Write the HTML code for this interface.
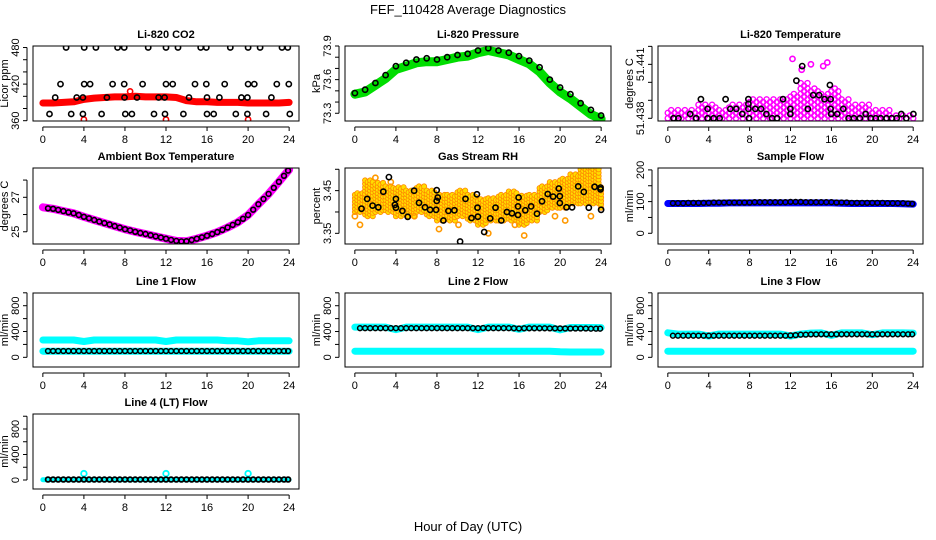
<!DOCTYPE html>
<html><head><meta charset="utf-8"><style>
html,body{margin:0;padding:0;background:#fff;}
svg{display:block;font-family:"Liberation Sans",Arial,sans-serif;}
</style></head><body>
<svg id="chart" width="936" height="540" viewBox="0 0 936 540" xmlns="http://www.w3.org/2000/svg">
<rect width="936" height="540" fill="#fff"/>
<text x="468" y="14" text-anchor="middle" font-size="13">FEF_110428  Average Diagnostics</text>
<text x="468" y="531" text-anchor="middle" font-size="13">Hour of Day (UTC)</text>
</svg>
<script>
// ---------- data ----------
const hours = [0,1,2,3,4,5,6,7,8,9,10,11,12,13,14,15,16,17,18,19,20,21,22,23,24];
const halfHours = [0.5,1,1.5,2,2.5,3,3.5,4,4.5,5,5.5,6,6.5,7,7.5,8,8.5,9,9.5,10,10.5,11,11.5,12,12.5,13,13.5,14,14.5,15,15.5,16,16.5,17,17.5,18,18.5,19,19.5,20,20.5,21,21.5,22,22.5,23,23.5,23.9];
const xTickLabels = [0,4,8,12,16,20,24];

const co2Red = [389,389,390,391,395,397,398,399,399,400,399,399,399,398,393,391,391,390,390,390,389,389,389,389,390];
const co2RedOutX = [4,12,20,8.5];
const co2RedOutY = [362,362,362,408];
const co2BlackX = [2.27,4.03,5.17,7.28,7.93,10.27,12,13.17,15.38,15.93,18.27,20,21.17,23.3,23.87,
 1.72,4.03,4.6,6.8,7.93,9.72,12,12.65,14.83,15.93,17.72,20,20.6,22.8,23.97,
 1.2,3.3,3.9,6.24,7.96,9.17,11.28,11.86,14.24,16,17.2,19.35,19.93,22.27,
 0.65,2.76,3.9,5.72,8.03,8.68,10.83,11.9,13.7,16,16.65,18.8,19.93,21.75,24.06];
const co2BlackY = [480,480,480,480,480,480,480,480,480,480,480,480,480,480,480,
 420,420,420,420,420,420,420,420,420,420,420,420,420,420,420,
 398,398,398,398,398,398,398,398,398,398,398,398,398,398,
 371,371,371,371,371,371,371,371,371,371,371,371,371,371,371];

const pressBlack = [73.48,73.51,73.57,73.64,73.72,73.75,73.78,73.79,73.78,73.80,73.82,73.83,73.86,73.88,73.86,73.84,73.81,73.77,73.71,73.60,73.53,73.47,73.39,73.33,73.28];
const pressGreen = [73.47,73.49,73.55,73.61,73.69,73.72,73.75,73.76,73.76,73.78,73.80,73.81,73.84,73.86,73.84,73.82,73.78,73.74,73.67,73.57,73.49,73.43,73.36,73.29,73.25];

const tempLow = [51.438,51.438,51.438,51.438,51.438,51.438,51.438,51.438,51.438,51.438,51.438,51.438,51.438,51.438,51.438,51.438,51.438,51.438,51.438,51.438,51.438,51.438,51.438,51.438,51.438];
const tempHigh = [51.4384,51.4384,51.4385,51.4387,51.4386,51.4385,51.4386,51.4386,51.4389,51.4389,51.4390,51.4390,51.4393,51.4400,51.4395,51.4393,51.4396,51.4390,51.4387,51.4386,51.4384,51.4383,51.4382,51.4382,51.4382];
const tempOutX = [12.7,12.2,15.6,14,15.2,13.1];
const tempOutY = [51.4422,51.4413,51.4411,51.4410,51.4409,51.4407];
const tempBlackX = [0.56,1.05,2.19,2.78,3.24,3.89,3.89,4.48,5.07,5.65,6.11,6.7,7.29,7.88,7.88,7.88,7.94,8.56,9.12,9.64,10.2,10.69,11.27,11.99,11.99,12.58,13.14,13.69,14.22,14.8,15.33,15.85,15.92,15.92,15.98,16.57,17.16,17.68,18.2,18.79,19.35,19.84,20.33,20.82,21.4,21.9,22.39,22.84,23.33,24.02];
const tempBlackY = [51.438,51.438,51.43824,51.438,51.43906,51.438,51.43852,51.438,51.438,51.43906,51.43852,51.43852,51.43824,51.43906,51.4388,51.43852,51.438,51.43852,51.43852,51.43824,51.438,51.438,51.43906,51.43852,51.43824,51.44009,51.4409,51.43852,51.43929,51.43929,51.43906,51.43985,51.43906,51.43852,51.43824,51.43824,51.43852,51.438,51.438,51.438,51.43824,51.438,51.438,51.438,51.438,51.438,51.438,51.43824,51.438,51.43824];

const ambMagenta = [26.42,26.33,26.2,26.07,25.87,25.68,25.5,25.33,25.15,25.0,24.87,24.73,24.6,24.47,24.45,24.6,24.77,24.98,25.25,25.55,25.97,26.6,27.2,27.9,28.6];
const ambBlack = [26.36,26.33,26.27,26.2,26.13,26.07,25.97,25.87,25.78,25.68,25.59,25.5,25.42,25.33,25.24,25.15,25.08,25.0,24.93,24.87,24.8,24.73,24.67,24.6,24.53,24.47,24.44,24.45,24.52,24.6,24.68,24.77,24.87,24.98,25.11,25.25,25.4,25.55,25.75,25.97,26.28,26.6,26.9,27.2,27.55,27.9,28.25,28.55];

const rhLow = [3.40,3.39,3.40,3.40,3.39,3.39,3.40,3.39,3.38,3.38,3.39,3.38,3.37,3.38,3.38,3.38,3.37,3.38,3.40,3.41,3.41,3.42,3.42,3.42,3.41];
const rhHigh = [3.44,3.47,3.47,3.46,3.46,3.45,3.46,3.45,3.44,3.44,3.45,3.44,3.43,3.43,3.44,3.45,3.44,3.44,3.46,3.47,3.48,3.49,3.50,3.50,3.46];
const rhOutX = [0,0.5,2,3.5,8.2,10.1,13,16.5,23,20.5,19.5,5.8,15.6];
const rhOutY = [3.39,3.37,3.48,3.47,3.36,3.37,3.35,3.345,3.39,3.38,3.39,3.39,3.37];
const rhBlackX = [0.65,1.2,1.73,2.28,2.77,3.32,3.9,4,4,4.63,5.15,5.77,6.25,6.84,7.33,7.92,7.98,7.98,8.08,8.63,9.12,9.7,10.26,10.78,11.37,11.89,11.95,11.99,12.6,13.19,13.71,14.27,14.82,15.31,15.96,15.9,15.9,16.61,17.17,17.75,18.24,18.79,19.32,19.87,19.97,19.97,20.62,21.17,21.76,22.31,22.8,23.36,23.94,23.94,24];
const rhBlackY = [3.4076,3.4306,3.415,3.411,3.4474,3.4816,3.4168,3.4306,3.41,3.4025,3.3887,3.4498,3.4214,3.411,3.405,3.405,3.426,3.451,3.434,3.38,3.4025,3.404,3.3308,3.4306,3.386,3.4414,3.41,3.389,3.353,3.385,3.41,3.38,3.4,3.397,3.434,3.413,3.393,3.404,3.413,3.396,3.425,3.442,3.436,3.455,3.437,3.421,3.411,3.411,3.46,3.447,3.41,3.459,3.457,3.453,3.405];

const sampleBlue = [94,94,94,94,95,95,96,96,96,96,96,96,96,96,96,96,96,95,94,94,94,94,94,93,92];
const sampleBlack = [95,95,95,96,96,96,96,96,97,97,97,97,97,97,97,97,98,98,98,98,98,98,98,99,99,99,98,98,98,98,98,98,97,97,97,96,96,96,96,96,96,96,95,95,95,95,94,93];

const line1CyanTop = [268,268,268,268,245,268,268,268,268,268,268,268,245,268,268,268,268,268,256,256,240,256,256,256,256];
const line1CyanLow = [95,95,95,95,95,95,95,95,95,95,95,95,95,95,95,95,95,95,95,95,95,95,95,95,95];
const line1Black = [98,98,98,98,98,98,98,98,98,98,98,98,98,98,98,98,98,98,98,98,98,98,98,98,98,98,98,98,98,98,98,98,98,98,98,98,98,98,98,98,98,98,98,98,98,98,98,98];
const line2CyanTop = [468,468,468,468,430,468,468,468,468,468,468,468,430,468,468,468,435,468,468,468,425,462,462,462,460];
const line2CyanLow = [95,95,95,95,95,95,95,95,95,95,95,95,95,95,95,95,95,95,95,95,85,82,82,82,82];
const line2Black = [452,452,452,452,452,452,452,452,452,452,452,452,452,452,452,452,452,452,452,452,452,452,452,452,454,452,452,452,452,452,450,446,450,450,450,450,450,448,448,448,446,446,446,446,446,444,444,444];
const line3CyanTop = [380,360,360,360,330,360,360,360,360,360,360,360,330,360,375,378,340,378,378,378,350,378,378,378,375];
const line3CyanLow = [95,95,95,95,95,95,95,95,95,95,95,95,95,95,95,95,95,95,95,95,95,95,95,95,95];
const line3Black = [335,335,335,335,335,335,335,335,335,335,335,335,335,335,335,335,335,335,335,335,335,335,335,340,345,350,352,355,356,357,357,357,357,357,357,357,357,357,357,357,357,357,357,357,357,357,357,357];
const line4CyanBase = [5,5,5,5,5,5,5,5,5,5,5,5,5,5,5,5,5,5,5,5,5,5,5,5,5];
const line4SpikeX = [4,12,20];
const line4SpikeY = [100,100,100];
const line4Black = [8,8,8,8,8,8,8,8,8,8,8,8,8,8,8,8,8,8,8,8,8,8,8,8,8,8,8,8,8,8,8,8,8,8,8,8,8,8,8,8,8,8,8,8,8,8,8,8];

// ---------- drawing ----------
const NS = 'http://www.w3.org/2000/svg';
const svg = document.getElementById('chart');
function mk(tag, attrs, parent){
  const e = document.createElementNS(NS, tag);
  for (const k in attrs) e.setAttribute(k, attrs[k]);
  (parent||svg).appendChild(e);
  return e;
}
const COLS = [[33,299],[345,611],[658,923]];
const ROWS = [[46,121],[168,244],[293,367],[414,489]];

function panel(name, col, row, title, ytitle, ylim, yticks, ylabels){
  const [x0,x1] = COLS[col], [y0,y1] = ROWS[row];
  const g = mk('g', {});
  
  
  const sx = v => x0 + (v + 0.96) / 25.92 * (x1 - x0);
  const sy = v => y1 - (v - ylim[0]) / (ylim[1] - ylim[0]) * (y1 - y0);
  const plot = mk('g', {}, g);
  
  
  const t = mk('text', {x:(x0+x1)/2, y:y0-8, 'text-anchor':'middle', 'font-size':11, 'font-weight':'bold'}, g);
  t.textContent = title;
  
  
  const xa = mk('g', {stroke:'#000','stroke-width':1}, g);
  
  
  mk('line', {x1:sx(0), x2:sx(24), y1:y1+6, y2:y1+6}, xa);
  xTickLabels.forEach(v => {
    mk('line', {x1:sx(v), x2:sx(v), y1:y1+6, y2:y1+10}, xa);
    const l = mk('text', {x:sx(v), y:y1+22, 'text-anchor':'middle','font-size':11, stroke:'none', fill:'#000'}, xa);
    l.textContent = v;
    
    
  });
  const ya = mk('g', {stroke:'#000','stroke-width':1}, g);
  
  
  mk('line', {x1:x0-6, x2:x0-6, y1:sy(yticks[0]), y2:sy(yticks[yticks.length-1])}, ya);
  yticks.forEach(v => mk('line', {x1:x0-10, x2:x0-6, y1:sy(v), y2:sy(v)}, ya));
  ylabels.forEach(v => {
    const yy = sy(v);
    const l = mk('text', {x:x0-14, y:yy, 'text-anchor':'middle','font-size':11, stroke:'none', fill:'#000', transform:`rotate(-90 ${x0-14} ${yy})`}, ya);
    l.textContent = v;
    
    
  });
  const yt = mk('text', {x:x0-25, y:(y0+y1)/2, 'text-anchor':'middle','font-size':11, transform:`rotate(-90 ${x0-25} ${(y0+y1)/2})`}, g);
  yt.textContent = ytitle;
  
  
  const clip = 'clip-' + name;
  const cp = mk('clipPath', {id:clip}, g);
  mk('rect', {x:x0, y:y0, width:x1-x0, height:y1-y0}, cp);
  const inner = mk('g', {'clip-path':`url(#${clip})`}, plot);
  mk('rect', {x:x0, y:y0, width:x1-x0, height:y1-y0, fill:'none', stroke:'#000', 'stroke-width':1}, g);
  return {sx, sy, g:inner};
}
function band(p, xs, ys, color, w, nm){
  const pts = xs.map((x,i) => p.sx(x).toFixed(1) + ',' + p.sy(ys[i]).toFixed(1)).join(' ');
  const e = mk('polyline', {points:pts, fill:'none', stroke:color, 'stroke-width':w, 'stroke-linejoin':'round', 'stroke-linecap':'round'}, p.g);
  
  
}
function dots(p, xs, ys, color, r, sw, nm){
  const grp = mk('g', {fill:'none', stroke:color, 'stroke-width':sw}, p.g);
  
  
  xs.forEach((x,i) => {
    const c = mk('circle', {cx:p.sx(x).toFixed(1), cy:p.sy(ys[i]).toFixed(1), r:r}, grp);
    
    
  });
}
function cloud(p, lows, highs, step, sub, color, fillc, sw, nm){
  const grp = mk('g', {fill:fillc, stroke:color, 'stroke-width':sw}, p.g);
  
  
  hours.forEach((h,i) => {
    for (let j = 0; j < sub; j++) {
      const x = h + j/sub;
      if (x > 24) break;
      for (let v = lows[i]; v <= highs[i] + 1e-9; v += step) {
        const c = mk('circle', {cx:p.sx(x).toFixed(1), cy:p.sy(v + ((i+j)%2)*step*0.5).toFixed(1), r:2.6}, grp);
        
        
      }
    }
  });
}

let p = panel('co2-panel', 0, 0, 'Li-820 CO2', 'Licor ppm', [359.5,482.5], [360,380,400,420,440,460,480], [360,420,480]);
band(p, hours, co2Red, '#ff0000', 7, 'co2-red-series');
dots(p, co2RedOutX, co2RedOutY, '#ff0000', 2.6, 1.6, 'co2-red-outliers');
dots(p, co2BlackX, co2BlackY, '#000', 2.6, 1.6, 'co2-black-series');

p = panel('pressure-panel', 1, 0, 'Li-820 Pressure', 'kPa', [73.231,73.9], [73.3,73.4,73.5,73.6,73.7,73.8,73.9], [73.3,73.6,73.9]);
band(p, hours, pressGreen, '#00dd00', 9, 'pressure-green-series');
dots(p, hours, pressBlack, '#000', 2.6, 1.6, 'pressure-black-series');

p = panel('li820-temp-panel', 2, 0, 'Li-820 Temperature', 'degrees C', [51.43785,51.44202], [51.438,51.439,51.44,51.441,51.442], [51.438,51.441]);
cloud(p, tempLow, tempHigh, 0.0003, 3, '#ff00ff', 'none', 1.4, 'temp-magenta-series');
dots(p, tempOutX, tempOutY, '#ff00ff', 2.6, 1.6, 'temp-magenta-outliers');
dots(p, tempBlackX, tempBlackY, '#000', 2.6, 1.6, 'temp-black-series');

p = panel('ambient-temp-panel', 0, 1, 'Ambient Box Temperature', 'degrees C', [24.29,28.7], [25,26,27,28], [25,27]);
band(p, hours, ambMagenta, '#ff00ff', 8, 'ambient-magenta-series');
dots(p, halfHours, ambBlack, '#000', 2.4, 1.6, 'ambient-black-series');

p = panel('gas-rh-panel', 1, 1, 'Gas Stream RH', 'percent', [3.325,3.503], [3.35,3.4,3.45,3.5], [3.35,3.45]);
cloud(p, rhLow, rhHigh, 0.008, 4, '#ff8800', '#ffdd00', 0.8, 'rh-orange-series');
dots(p, rhOutX, rhOutY, '#ff9900', 2.6, 1.6, 'rh-orange-outliers');
dots(p, rhBlackX, rhBlackY, '#000', 2.6, 1.6, 'rh-black-series');

p = panel('sample-flow-panel', 2, 1, 'Sample Flow', 'ml/min', [-33.8,206], [0,50,100,150,200], [0,100,200]);
band(p, hours, sampleBlue, '#0000ff', 7, 'sample-blue-series');
dots(p, halfHours, sampleBlack, '#000', 2.4, 1.5, 'sample-black-series');

const flowTicks = [0,200,400,600,800,1000];
const flowLabels = [0,400,800];
p = panel('line1-flow-panel', 0, 2, 'Line 1 Flow', 'ml/min', [-150,997], flowTicks, flowLabels);
band(p, hours, line1CyanTop, '#00ffff', 7, 'line1-cyan-top-series');
band(p, hours, line1CyanLow, '#00ffff', 7, 'line1-cyan-low-series');
dots(p, halfHours, line1Black, '#000', 2.4, 1.5, 'line1-black-series');
p = panel('line2-flow-panel', 1, 2, 'Line 2 Flow', 'ml/min', [-150,997], flowTicks, flowLabels);
band(p, hours, line2CyanTop, '#00ffff', 7, 'line2-cyan-top-series');
band(p, hours, line2CyanLow, '#00ffff', 7, 'line2-cyan-low-series');
dots(p, halfHours, line2Black, '#000', 2.4, 1.5, 'line2-black-series');
p = panel('line3-flow-panel', 2, 2, 'Line 3 Flow', 'ml/min', [-150,997], flowTicks, flowLabels);
band(p, hours, line3CyanTop, '#00ffff', 7, 'line3-cyan-top-series');
band(p, hours, line3CyanLow, '#00ffff', 7, 'line3-cyan-low-series');
dots(p, halfHours, line3Black, '#000', 2.4, 1.5, 'line3-black-series');
p = panel('line4-flow-panel', 0, 3, 'Line 4 (LT) Flow', 'ml/min', [-141,1035], flowTicks, flowLabels);
band(p, hours, line4CyanBase, '#00ffff', 5, 'line4-cyan-base-series');
dots(p, line4SpikeX, line4SpikeY, '#00ffff', 2.8, 1.8, 'line4-cyan-spikes');
dots(p, halfHours, line4Black, '#000', 2.4, 1.8, 'line4-black-series');
</script>
</body></html>
